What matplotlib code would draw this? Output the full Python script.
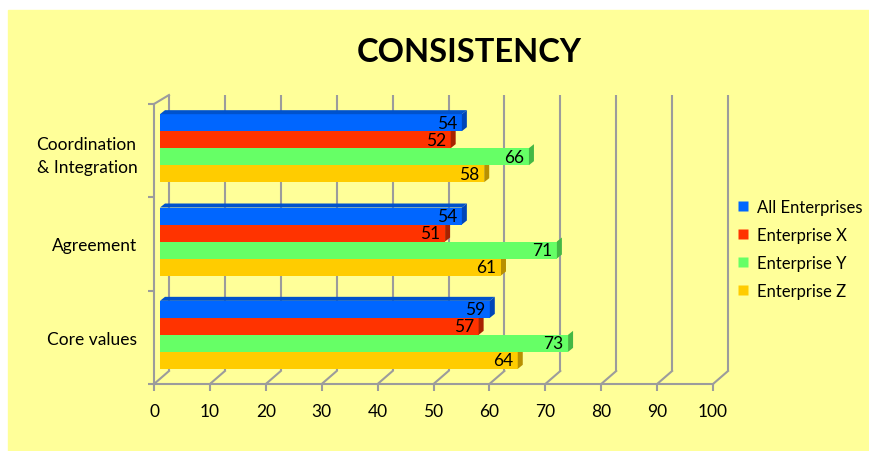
import matplotlib
matplotlib.use("Agg")
import matplotlib.pyplot as plt
from matplotlib.patches import Polygon, Rectangle
from matplotlib.lines import Line2D

plt.rcParams['font.family'] = ['Lato', 'DejaVu Sans']

# ---- data ----
categories = ["Core values", "Agreement", "Coordination\n& Integration"]
series = ["All Enterprises", "Enterprise X", "Enterprise Y", "Enterprise Z"]
all_enterprises = [59, 54, 54]
enterprise_x = [57, 51, 52]
enterprise_y = [73, 71, 66]
enterprise_z = [64, 61, 58]
x_ticks = [0, 10, 20, 30, 40, 50, 60, 70, 80, 90, 100]

values = [all_enterprises, enterprise_x, enterprise_y, enterprise_z]
front_colors = ['#0066FF', '#FF3300', '#66FF66', '#FFCC00']
side_colors = ['#0046B8', '#A82200', '#44B844', '#B89000']
top_color = '#0052CC'
grid_color = '#9C9C9C'
bg = '#FFFF99'

W, H = 869, 452
fig = plt.figure(figsize=(W / 100, H / 100), dpi=100)
fig.patch.set_facecolor('white')
fig.patches.append(Rectangle((8 / W, 0), 1 - 8 / W, 1 - 11 / H,
                             transform=fig.transFigure, color=bg, zorder=-10))

# front plotting plane
left_px, right_px, top_px, bot_px = 154, 713, 105, 385
ax = fig.add_axes([left_px / W, 1 - bot_px / H,
                   (right_px - left_px) / W, (bot_px - top_px) / H])
ax.set_facecolor('none')
ax.set_xlim(0, 100)
ax.set_ylim(0, 3)

px_x = (right_px - left_px) / 100.0   # pixels per value unit
px_y = (bot_px - top_px) / 3.0        # pixels per category unit

# depth of the back wall
back_dx = 15 / px_x
back_dy_floor = 13 / px_y
back_top = 3 + 9 / px_y

# back wall gridlines + floor diagonals
for v in x_ticks:
    ax.plot([v + back_dx, v + back_dx], [back_dy_floor, back_top],
            color=grid_color, lw=1.5, zorder=1, clip_on=False,
            solid_capstyle='butt')
    ax.plot([v, v + back_dx], [0, back_dy_floor],
            color=grid_color, lw=1.5, zorder=1, clip_on=False)
# left wall top edge
ax.plot([0, back_dx], [3, back_top], color=grid_color, lw=1.5,
        zorder=1, clip_on=False)

# bars with 3D faces
bar_h = 17 / px_y
bar_x0 = 6 / px_x
group_shift = 2.5 / px_y
face_dx = 5 / px_x
face_dy = 4 / px_y

for ci in range(len(categories)):
    center = ci + 0.5 + group_shift
    # draw from bottom bar upward so upper faces overlay
    for j in reversed(range(len(series))):
        v = values[j][ci]
        yc = center + (1.5 - j) * bar_h
        y0, y1 = yc - bar_h / 2, yc + bar_h / 2
        x1 = bar_x0 + v
        ax.barh(yc, v, left=bar_x0, height=bar_h, color=front_colors[j],
                edgecolor='none', zorder=3 + (3 - j))
        side = Polygon([(x1, y0), (x1 + face_dx, y0 + face_dy),
                        (x1 + face_dx, y1 + face_dy), (x1, y1)],
                       closed=True, facecolor=side_colors[j],
                       edgecolor='none', zorder=3 + (3 - j), clip_on=False)
        ax.add_patch(side)
        if j == 0:
            top = Polygon([(bar_x0, y1), (bar_x0 + face_dx, y1 + face_dy),
                           (x1 + face_dx, y1 + face_dy), (x1, y1)],
                          closed=True, facecolor=top_color,
                          edgecolor='none', zorder=3 + (3 - j), clip_on=False)
            ax.add_patch(top)
        ax.annotate(str(v), xy=(x1, yc), xytext=(-3.5, 0),
                    textcoords='offset points', ha='right', va='center',
                    fontsize=12.5, color='black', zorder=10)

# axes styling
for s in ['top', 'right']:
    ax.spines[s].set_visible(False)
for s in ['left', 'bottom']:
    ax.spines[s].set_color(grid_color)
    ax.spines[s].set_linewidth(1.5)
    ax.spines[s].set_zorder(2)

ax.set_xticks(x_ticks)
ax.set_xticklabels([str(t) for t in x_ticks], fontsize=12.5)
ax.tick_params(axis='x', direction='out', length=5, width=1.5,
               color=grid_color, pad=9)

ax.set_yticks([0, 1, 2, 3])
ax.set_yticklabels([])
ax.tick_params(axis='y', which='major', direction='out', length=4,
               width=1.5, color=grid_color)
ax.set_yticks([0.5, 1.5, 2.5], minor=True)
ax.set_yticklabels(categories, minor=True, fontsize=12.5,
                   multialignment='left', linespacing=1.55)
ax.tick_params(axis='y', which='minor', length=0, pad=12)

# title
fig.text(469 / W, 1 - 52 / H, "CONSISTENCY", ha='center', va='center',
         fontsize=23.5, fontweight='bold', color='black')

# legend
handles = [Line2D([], [], marker='s', linestyle='none', markersize=7,
                  markerfacecolor=c, markeredgecolor='none')
           for c in front_colors]
fig.legend(handles, series, loc='center left',
           bbox_to_anchor=(729 / W, 1 - 250 / H), frameon=False,
           fontsize=12, handlelength=0.7, handletextpad=0.5,
           labelspacing=0.72, borderpad=0)

fig.savefig("out.png", dpi=100, facecolor=fig.get_facecolor())
